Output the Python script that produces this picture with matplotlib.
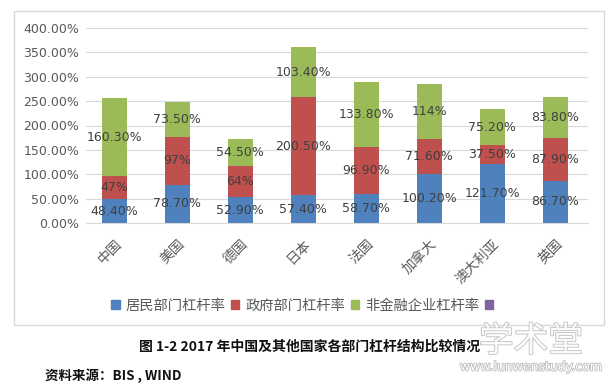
import matplotlib
matplotlib.use('Agg')
import matplotlib.pyplot as plt
import matplotlib.patheffects as pe
from matplotlib.patches import Patch, Rectangle
import numpy as np

plt.rcParams['font.family'] = ['Noto Sans CJK SC', 'DejaVu Sans']

countries = ['中国', '美国', '德国', '日本', '法国', '加拿大', '澳大利亚', '英国']
household = [48.4, 78.7, 52.9, 57.4, 58.7, 100.2, 121.7, 86.7]
government = [47, 97, 64, 200.5, 96.9, 71.6, 37.5, 87.9]
corporate = [160.3, 73.5, 54.5, 103.4, 133.8, 114, 75.2, 83.8]
household_lbl = ['48.40%', '78.70%', '52.90%', '57.40%', '58.70%', '100.20%', '121.70%', '86.70%']
government_lbl = ['47%', '97%', '64%', '200.50%', '96.90%', '71.60%', '37.50%', '87.90%']
corporate_lbl = ['160.30%', '73.50%', '54.50%', '103.40%', '133.80%', '114%', '75.20%', '83.80%']
series_names = ['居民部门杠杆率', '政府部门杠杆率', '非金融企业杠杆率', '']
colors = ['#4F81BD', '#C0504D', '#9BBB59', '#8064A2']

fig = plt.figure(figsize=(6.15, 3.87), dpi=100)
fig.patch.set_facecolor('white')

# chart frame
fig.patches.append(Rectangle((14/615, 1-325/387), 590/615, 314/387, transform=fig.transFigure,
                             fill=False, edgecolor='#D9D9D9', linewidth=1))

ax = fig.add_axes([86/615, 1-223/387, 502/615, 195/387])
x = np.arange(len(countries))
w = 0.4
bottom = np.zeros(len(countries))
for vals, lbls, c in [(household, household_lbl, colors[0]),
                      (government, government_lbl, colors[1]),
                      (corporate, corporate_lbl, colors[2])]:
    vals = np.array(vals)
    ax.bar(x, vals, w, bottom=bottom, color=c, zorder=2)
    for xi, b, v, t in zip(x, bottom, vals, lbls):
        ax.text(xi, b + v/2, t, ha='center', va='center', fontsize=9,
                color='#404040', family='DejaVu Sans', zorder=3)
    bottom = bottom + vals

ax.set_ylim(0, 400)
ax.set_xlim(-0.45, 7.52)
ax.set_yticks(np.arange(0, 401, 50))
ax.set_yticklabels(['%.2f%%' % v for v in np.arange(0, 401, 50)], family='DejaVu Sans')
ax.yaxis.grid(True, color='#D9D9D9', linewidth=0.8, zorder=0)
ax.set_axisbelow(True)
for s in ['top', 'right', 'left']:
    ax.spines[s].set_visible(False)
ax.spines['bottom'].set_color('#D9D9D9')
ax.tick_params(axis='both', length=0, colors='#595959', labelsize=9)
ax.tick_params(axis='y', pad=5)
ax.set_xticks(x)
ax.set_xticklabels(countries, rotation=45, ha='right', rotation_mode='anchor', fontsize=10)
ax.tick_params(axis='x', pad=10)

handles = [Patch(color=c) for c in colors]
fig.legend(handles, series_names, loc='center', bbox_to_anchor=(305/615, 1-306/387), ncol=4,
           frameon=False, fontsize=10.3, handlelength=0.6, handleheight=0.6,
           handletextpad=0.4, columnspacing=0.4, labelcolor='#595959')

fig.text(310/615, 1-347/387, '图 1-2 2017 年中国及其他国家各部门杠杆结构比较情况',
         ha='center', va='center', fontsize=10, fontweight='bold', color='#111111')
fig.text(45/615, 1-376/387, '资料来源：BIS , WIND', ha='left', va='center',
         fontsize=9.7, fontweight='bold', color='#111111')

# watermark
fig.text(531/615, 1-342/387, '学术堂', ha='center', va='center', fontsize=25,
         color='white', alpha=0.9,
         path_effects=[pe.withStroke(linewidth=1.2, foreground='#BBBBBB')])
fig.text(531/615, 1-367/387, 'www.lunwenstudy.com', ha='center', va='center', fontsize=9,
         color='white', family='DejaVu Sans',
         path_effects=[pe.withStroke(linewidth=1.2, foreground='#BBBBBB')])

fig.savefig('out.png', dpi=100)
